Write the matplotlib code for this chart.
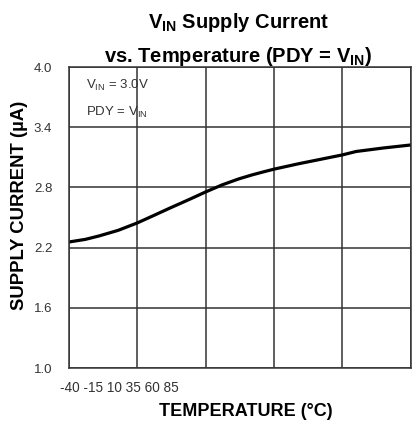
import matplotlib
matplotlib.use("Agg")
import matplotlib.pyplot as plt

plt.rcParams['font.family'] = ['Liberation Sans', 'DejaVu Sans']

# data
temperature = [-40, -34, -29, -22, -15, -9, -3, 4, 10, 16, 22, 27, 31, 35, 44, 52, 60, 65, 75, 85]
supply_current = [2.256, 2.282, 2.316, 2.372, 2.446, 2.52, 2.595, 2.68, 2.755, 2.825, 2.884, 2.925,
                  2.954, 2.982, 3.036, 3.08, 3.124, 3.158, 3.193, 3.223]
x_ticks = [-40, -15, 10, 35, 60, 85]
y_ticks = [1.0, 1.6, 2.2, 2.8, 3.4, 4.0]

fig = plt.figure(figsize=(4.15, 4.23), dpi=100)
ax = fig.add_axes([0.166, 0.130, 0.824, 0.7116])

ax.plot(temperature, supply_current, color='black', lw=2.3, solid_capstyle='round',
        solid_joinstyle='round')

ax.set_xlim(x_ticks[0], x_ticks[-1])
ax.set_ylim(y_ticks[0], y_ticks[-1])
ax.set_xticks(x_ticks)
ax.set_yticks(y_ticks)
ax.set_xticklabels([])
ax.set_yticklabels(['%.1f' % v for v in y_ticks], fontsize=9.5, color='#333333')
ax.tick_params(length=0, pad=12)
ax.grid(True, color='#333333', lw=1.1)
for s in ax.spines.values():
    s.set_color('#333333')
    s.set_linewidth(1.1)

# the x tick labels are bunched together under the left part of the axis
fig.text(60 / 415, 1 - 388 / 423, ' '.join(str(t) for t in x_ticks),
         fontsize=9.8, color='#333333', va='center', ha='left')

fig.text(246 / 415, 1 - 411 / 423, 'TEMPERATURE (°C)', fontsize=13, fontweight='bold',
         ha='center', va='center')
fig.text(20 / 415, 1 - 205 / 423, 'SUPPLY CURRENT (µA)', fontsize=13.3, fontweight='bold',
         ha='center', va='center', rotation=90)

fig.text(238 / 415, 1 - 22 / 423, r'V$_{\mathregular{IN}}$ Supply Current',
         fontsize=14.5, fontweight='bold', ha='center', va='center')
fig.text(238 / 415, 1 - 56 / 423, r'vs. Temperature (PDY = V$_{\mathregular{IN}}$)',
         fontsize=14.5, fontweight='bold', ha='center', va='center')

ax.text(0.05, 0.94, r'V$_{\mathregular{IN}}$ = 3.0V', transform=ax.transAxes,
        fontsize=9.5, color='#333333', va='center')
ax.text(0.05, 0.85, r'PDY = V$_{\mathregular{IN}}$', transform=ax.transAxes,
        fontsize=9.5, color='#333333', va='center')

fig.savefig('out.png', dpi=100)
